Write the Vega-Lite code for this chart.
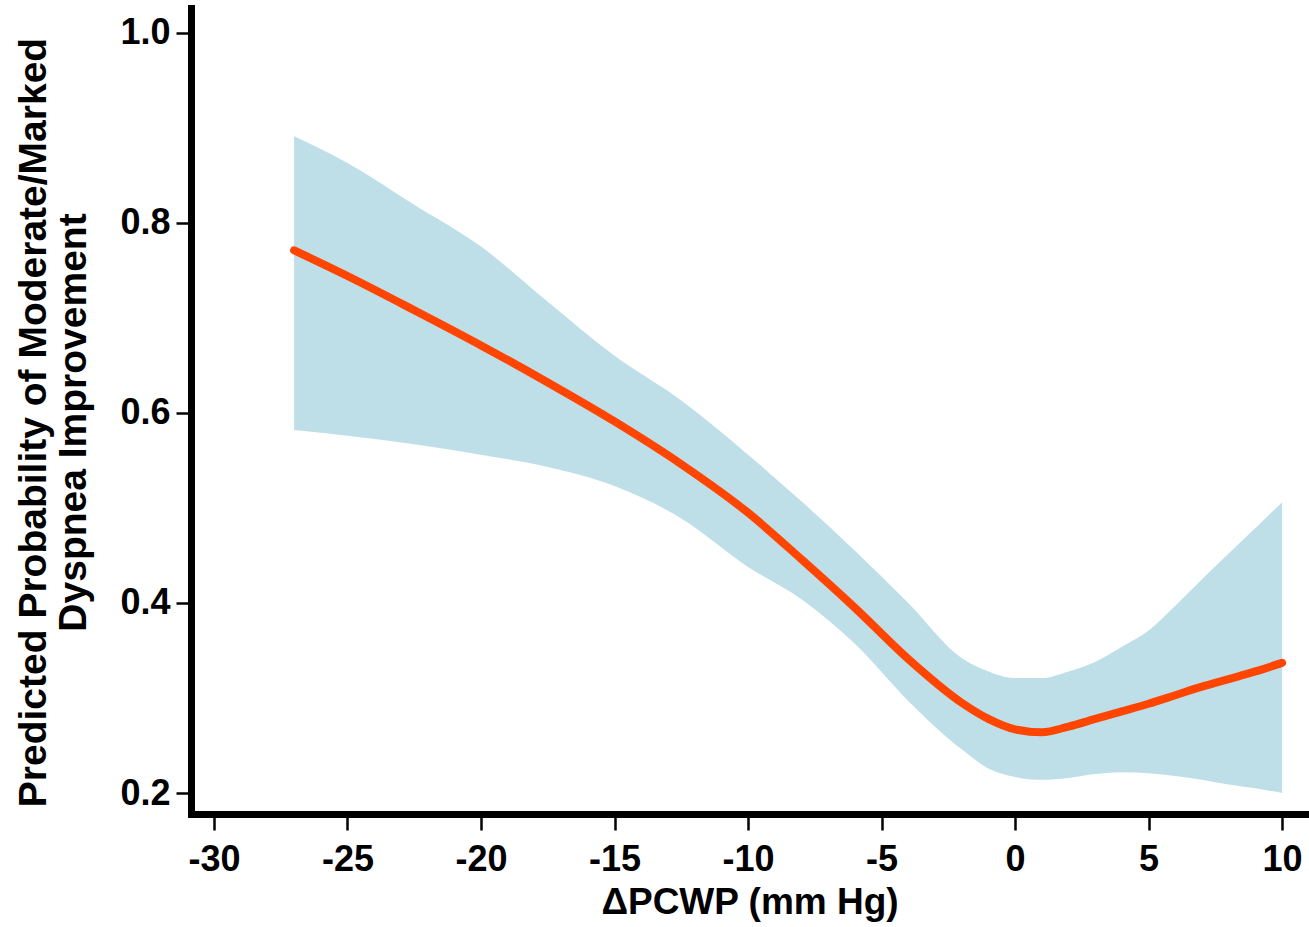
{
  "$schema": "https://vega.github.io/schema/vega-lite/v6.json",
  "width": 1117,
  "height": 806,
  "autosize": {"type": "none"},
  "padding": {"left": 191, "top": 8, "right": 1, "bottom": 113},
  "background": "white",
  "config": {"view": {"stroke": null}},
  "data": {"values": [
    {"dpcwp": -27, "fit": 0.771, "lower": 0.582, "upper": 0.891},
    {"dpcwp": -25, "fit": 0.744, "lower": 0.576, "upper": 0.863},
    {"dpcwp": -22.5, "fit": 0.708, "lower": 0.567, "upper": 0.819},
    {"dpcwp": -20, "fit": 0.671, "lower": 0.556, "upper": 0.775},
    {"dpcwp": -17.5, "fit": 0.632, "lower": 0.543, "upper": 0.717},
    {"dpcwp": -15, "fit": 0.591, "lower": 0.523, "upper": 0.660},
    {"dpcwp": -12.5, "fit": 0.546, "lower": 0.489, "upper": 0.613},
    {"dpcwp": -10, "fit": 0.495, "lower": 0.438, "upper": 0.556},
    {"dpcwp": -8, "fit": 0.446, "lower": 0.404, "upper": 0.507},
    {"dpcwp": -6, "fit": 0.395, "lower": 0.357, "upper": 0.455},
    {"dpcwp": -4, "fit": 0.341, "lower": 0.297, "upper": 0.400},
    {"dpcwp": -2, "fit": 0.295, "lower": 0.246, "upper": 0.342},
    {"dpcwp": -1, "fit": 0.278, "lower": 0.226, "upper": 0.328},
    {"dpcwp": 0, "fit": 0.267, "lower": 0.217, "upper": 0.321},
    {"dpcwp": 1, "fit": 0.264, "lower": 0.214, "upper": 0.321},
    {"dpcwp": 2, "fit": 0.270, "lower": 0.216, "upper": 0.328},
    {"dpcwp": 3, "fit": 0.278, "lower": 0.220, "upper": 0.338},
    {"dpcwp": 4, "fit": 0.286, "lower": 0.222, "upper": 0.354},
    {"dpcwp": 5, "fit": 0.294, "lower": 0.221, "upper": 0.371},
    {"dpcwp": 6, "fit": 0.303, "lower": 0.218, "upper": 0.397},
    {"dpcwp": 7, "fit": 0.312, "lower": 0.214, "upper": 0.425},
    {"dpcwp": 8, "fit": 0.320, "lower": 0.209, "upper": 0.452},
    {"dpcwp": 9, "fit": 0.328, "lower": 0.205, "upper": 0.479},
    {"dpcwp": 10, "fit": 0.337, "lower": 0.200, "upper": 0.506}
  ]},
  "encoding": {
    "x": {
      "field": "dpcwp", "type": "quantitative",
      "scale": {"domain": [-30.86, 10.97], "nice": false, "zero": false},
      "axis": {
        "title": "ΔPCWP (mm Hg)",
        "values": [-30, -25, -20, -15, -10, -5, 0, 5, 10],
        "labelExpr": "replace(datum.label, '−', '-')",
        "grid": false,
        "domainColor": "black", "domainWidth": 7, "domainCap": "square",
        "tickColor": "black", "tickWidth": 2.5, "tickSize": 16,
        "labelFont": "Liberation Sans", "labelFontSize": 36, "labelFontWeight": "bold", "labelColor": "black",
        "labelPadding": 12, "labelFlush": false,
        "titleFont": "Liberation Sans", "titleFontSize": 37, "titleFontWeight": "bold", "titleColor": "black",
        "titlePadding": 7
      }
    }
  },
  "layer": [
    {
      "mark": {"type": "area", "color": "#BEDFE8", "opacity": 1, "interpolate": "monotone"},
      "encoding": {
        "y": {
          "field": "lower", "type": "quantitative",
          "scale": {"domain": [0.178, 1.026], "nice": false, "zero": false},
          "axis": {
            "title": ["Predicted Probability of Moderate/Marked", "Dyspnea Improvement"],
            "values": [0.2, 0.4, 0.6, 0.8, 1.0],
            "format": ".1f",
            "grid": false,
            "domainColor": "black", "domainWidth": 7, "domainCap": "square",
            "tickColor": "black", "tickWidth": 2.5, "tickSize": 15,
            "labelFont": "Liberation Sans", "labelFontSize": 36, "labelFontWeight": "bold", "labelColor": "black",
            "labelPadding": 6, "labelFlush": false,
            "titleFont": "Liberation Sans", "titleFontSize": 39, "titleFontWeight": "bold", "titleColor": "black",
            "titleLineHeight": 40,
            "titleY": 414,
            "titlePadding": 26
          }
        },
        "y2": {"field": "upper"}
      }
    },
    {
      "mark": {"type": "line", "color": "#FF4500", "strokeWidth": 8, "strokeCap": "round", "interpolate": "monotone"},
      "encoding": {
        "y": {"field": "fit", "type": "quantitative"}
      }
    }
  ]
}
